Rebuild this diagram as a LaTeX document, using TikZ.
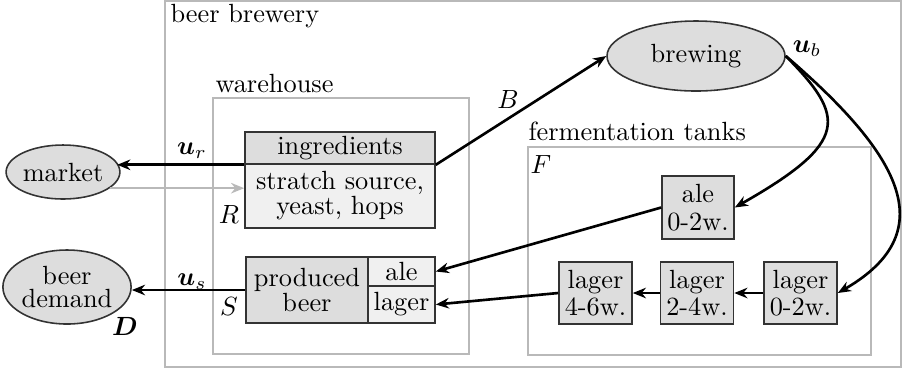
\documentclass[tikz,border=0pt]{standalone}
\usepackage{amsmath,bm}
\usetikzlibrary{arrows.meta,shapes.geometric}
\def\pxu{0.38pt}
\begin{document}
\begin{tikzpicture}[x=\pxu,y=-\pxu,
  frame/.style={draw=gray!55, line width=0.6pt},
  blk/.style={draw=black!80, line width=0.6pt, fill=gray!27, inner sep=0pt, align=center},
  lt/.style={blk, fill=gray!12},
  ell/.style={ellipse, draw=black!80, line width=0.6pt, fill=gray!27, inner sep=0pt, align=center},
  arr/.style={-{Stealth[length=5pt,width=4pt]}, line width=1pt},
  lbl/.style={inner sep=0pt}]
\useasboundingbox (0,0) rectangle (903,371);
% frames
\draw[frame] (165,1) rectangle (901,367);
\draw[frame] (213,98) rectangle (469,354);
\draw[frame] (528,147) rectangle (871,355);
\node[lbl, anchor=base west] (tbrew) at (170,22) {beer brewery};
\node[lbl, anchor=base west] (twh) at (215,92) {warehouse};
\node[lbl, anchor=base west] (tferm) at (528,140) {fermentation tanks};
\node[lbl] (tF) at (541,164) {$F$};
\node[lbl] (tR) at (229,214) {$R$};
\node[lbl] (tS) at (229,306) {$S$};
% outside
\node[ell, minimum width=103*\pxu, minimum height=54*\pxu] (market) at (63,172) {market};
\node[ell, minimum width=119*\pxu, minimum height=74*\pxu] (demand) at (67,287) {beer\\[-3.5pt]demand};
\node[lbl] (tD) at (125,326) {$\boldsymbol{D}$};
\node[ell, minimum width=178*\pxu, minimum height=70*\pxu] (brew) at (696,56) {brewing};
% warehouse
\node[blk, minimum width=190*\pxu, minimum height=32*\pxu] (ing) at (340,148) {ingredients};
\node[lt, minimum width=190*\pxu, minimum height=64*\pxu] (cont) at (340,196) {stratch source,\\[-2.5pt]yeast, hops};
\node[blk, minimum width=122*\pxu, minimum height=66*\pxu] (prod) at (307,290) {produced\\[-2.5pt]beer};
\node[lt, minimum width=67*\pxu, minimum height=29*\pxu] (ale) at (401.5,271.5) {ale};
\node[lt, minimum width=67*\pxu, minimum height=37*\pxu] (lager) at (401.5,304.5) {lager};
% tanks
\node[blk, minimum width=72*\pxu, minimum height=63*\pxu] (ale0) at (698,207.5) {ale\\[-1.5pt]0-2w.};
\node[blk, minimum width=73*\pxu, minimum height=62*\pxu] (lag0) at (800.5,293) {lager\\[-1.5pt]0-2w.};
\node[blk, minimum width=73*\pxu, minimum height=62*\pxu] (lag2) at (697,293) {lager\\[-1.5pt]2-4w.};
\node[blk, minimum width=73*\pxu, minimum height=62*\pxu] (lag4) at (595.5,293) {lager\\[-1.5pt]4-6w.};
% connectors
\draw[arr] (ing.south west) -- (ing.south west -| market.10);
\draw[arr, draw=gray!55] (market.-19) -- (market.-19 -| cont.west);
\draw[arr] (prod.west) -- (demand.east |- prod.west);
\draw[arr] (ing.south east) -- (brew.west);
\draw[arr] (brew.east) .. controls (846,117) and (850,142) .. (ale0.east);
\draw[arr] (brew.east) .. controls (895,150) and (947,230) .. (lag0.east);
\draw[arr] (ale0.west) -- (ale.east);
\draw[arr] (lag4.west) -- (lager.east);
\draw[arr] (lag0.west) -- (lag2.east);
\draw[arr] (lag2.west) -- (lag4.east);
% labels
\node[lbl] (lur) at (192,151) {$\boldsymbol{u}_r$};
\node[lbl] (lus) at (192,282) {$\boldsymbol{u}_s$};
\node[lbl] (lub) at (807,49) {$\boldsymbol{u}_b$};
\node[lbl] (lB) at (508,99) {$B$};
\end{tikzpicture}
\end{document}
